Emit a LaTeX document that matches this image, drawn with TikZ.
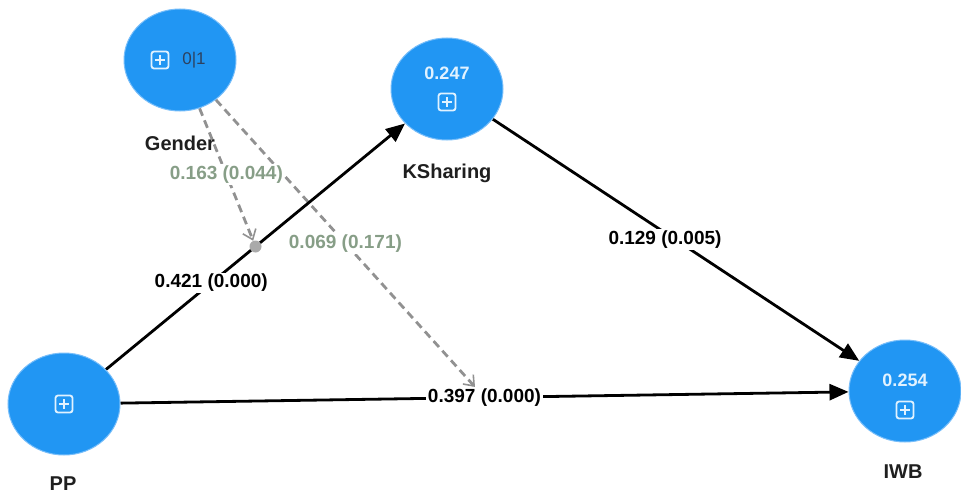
\documentclass[tikz,border=0pt]{standalone}
\usepackage{fontspec}
\setmainfont{Liberation Sans}
\usetikzlibrary{shapes.geometric,arrows.meta}
\definecolor{lvblue}{RGB}{33,150,243}
\definecolor{lvedge}{RGB}{120,190,250}
\definecolor{iconc}{RGB}{225,242,255}
\definecolor{modgray}{RGB}{145,145,145}
\definecolor{modtext}{RGB}{135,158,135}
\definecolor{dotgray}{RGB}{170,170,170}
\definecolor{binc}{RGB}{45,65,95}
\pgfdeclarelayer{bg}
\pgfsetlayers{bg,main}
\tikzset{
  lv/.style={ellipse, fill=lvblue, draw=lvedge, line width=1pt, minimum width=112pt, minimum height=102pt, inner sep=0pt},
  lvname/.style={font=\fontsize{20}{22}\selectfont\bfseries, text=black!88},
  lvval/.style={font=\fontsize{18}{20}\selectfont\bfseries, text=iconc},
  solidarrow/.style={line width=2.8pt, black, -{Triangle[length=19pt,width=16pt]}},
  modarrow/.style={line width=2.8pt, modgray, dash pattern=on 8pt off 5pt, -{Straight Barb[length=9pt,width=14pt,line width=1.6pt]}},
  coefl/.style={fill=white, inner sep=1.5pt, font=\fontsize{19}{21}\selectfont\bfseries, text=black},
  modl/.style={fill=white, inner sep=1.5pt, font=\fontsize{19}{21}\selectfont\bfseries, text=modtext},
  plusbox/.pic={
    \draw[iconc, line width=1.8pt, rounded corners=2.5pt] (-8.5,-8.5) rectangle (8.5,8.5);
    \draw[iconc, line width=1.8pt] (-5,0) -- (5,0) (0,-5) -- (0,5);
  }
}
\begin{document}
\begin{tikzpicture}[x=1pt,y=-1pt]
\useasboundingbox (0,0) rectangle (961,495);
% latent variables
\node[lv] (G) at (180,60) {};
\node[lv] (K) at (447,89) {};
\node[lv] (P) at (64,404) {};
\node[lv] (I) at (905,391) {};
% inner contents
\pic at (160,60) {plusbox};
\node[font=\fontsize{17}{19}\selectfont, text=binc] (Gv) at (194,60) {0|1};
\node[lvval] (Kv) at (447,73) {0.247};
\pic at (447,102) {plusbox};
\pic at (64,404) {plusbox};
\node[lvval] (Iv) at (905,380) {0.254};
\pic at (905,410) {plusbox};
% names
\node[lvname] (Gn) at (180,143) {Gender};
\node[lvname] (Kn) at (447,173) {KSharing};
\node[lvname] (Pn) at (63,484) {PP};
\node[lvname] (In) at (903,472) {IWB};
% moderation point
\path (P) -- coordinate[pos=0.5] (m1) (K);
\node[circle, fill=dotgray, minimum size=12pt, inner sep=0pt] (d) at (m1) {};
% coefficient labels
\path (P) -- node[coefl, pos=0.352] (l1) {0.421 (0.000)} (K);
\path (K) -- node[coefl, pos=0.47, yshift=-7pt] (l2) {0.129 (0.005)} (I);
\path (P) -- node[coefl, pos=0.5] (l3) {0.397 (0.000)} (I);
\path (G) -- node[modl, pos=0.5] (l4) {0.163 (0.044)} (d);
\path (G) -- node[modl, pos=0.5] (l5) {0.069 (0.171)} (l3);
% connectors
\begin{pgfonlayer}{bg}
\draw[modarrow] (G) -- (d);
\draw[modarrow] (G) -- (l3);
\draw[solidarrow] (P) -- (K);
\draw[solidarrow] (K) -- (I);
\draw[solidarrow] (P) -- (I);
\end{pgfonlayer}
\end{tikzpicture}
\end{document}
